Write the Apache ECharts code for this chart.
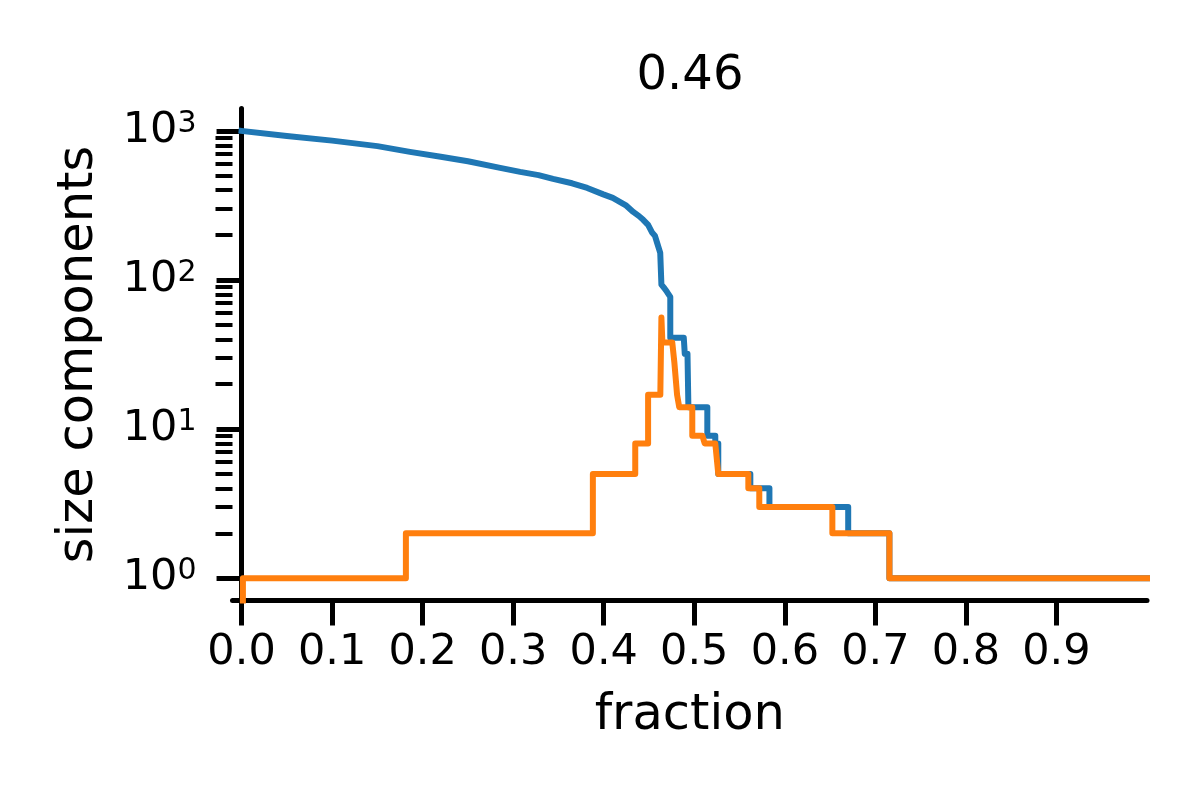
<!DOCTYPE html>
<html><head><meta charset="utf-8">
<script src="https://cdn.jsdelivr.net/npm/echarts@6/dist/echarts.min.js"></script>
<style>html,body{margin:0;padding:0;background:#fff}#c{width:1200px;height:800px}</style>
</head><body><div id="c"></div>
<script>
const titleText = '0.46';
const xName = 'fraction';
const yName = 'size components';
const xTicks = [0, 0.1, 0.2, 0.3, 0.4, 0.5, 0.6, 0.7, 0.8, 0.9];
const yMajorTicks = [1, 10, 100, 1000];
const yMinorTicks = [2, 3, 4, 5, 6, 7, 8, 9, 20, 30, 40, 50, 60, 70, 80, 90, 200, 300, 400, 500, 600, 700, 800, 900];

// largest component (blue)
const blueFraction = [0, 0.05, 0.1, 0.15, 0.186, 0.22, 0.25, 0.2856, 0.3077, 0.328,
  0.344, 0.365, 0.3818, 0.3995, 0.41, 0.4177, 0.425, 0.4326, 0.439, 0.4436,
  0.449, 0.4536, 0.4565, 0.459, 0.4624, 0.4637,
  0.4637, 0.467, 0.470, 0.4735, 0.4735, 0.4884, 0.4895, 0.4925, 0.4935, 0.5144,
  0.5144, 0.5232, 0.5232, 0.5265, 0.5265, 0.5619, 0.5619, 0.583, 0.583, 0.670,
  0.670, 0.7155, 0.7155, 1.0];
const blueSize = [1000, 925, 860, 790, 723, 670, 625, 565, 531, 505,
  476, 445, 414, 375, 355, 334, 315, 286, 268, 253,
  234, 207, 198, 177, 152, 150,
  93, 88, 83, 77, 41, 41, 32, 32, 14, 14,
  9, 9, 8, 8, 5, 5, 4, 4, 3, 3,
  2, 2, 1, 1];

// second largest component (orange)
const orangeFraction = [0.0015, 0.0015, 0.1815, 0.1815, 0.388, 0.388, 0.4348, 0.4348, 0.449, 0.449,
  0.4625, 0.4637, 0.4648, 0.4757, 0.478, 0.481, 0.4834, 0.4978, 0.4978, 0.509,
  0.5115, 0.5232, 0.5265, 0.5597, 0.5597, 0.5718, 0.5718, 0.6525, 0.6525, 0.7155,
  0.7155, 1.0];
const orangeSize = [0, 1, 1, 2, 2, 5, 5, 8, 8, 17,
  17, 56, 38, 38, 28, 17, 14, 14, 9, 9,
  8, 8, 5, 5, 4, 4, 3, 3, 2, 2,
  1, 1];

const X_MIN = -0.01, X_MAX = 1.0;
const Y_MIN = Math.pow(10, -0.15), Y_MAX = Math.pow(10, 3.15);
const FONT = 'DejaVu Sans';

function pairs(xs, ys) {
  return xs.map((x, i) => [x, ys[i] > 0 ? ys[i] : Y_MIN / 10]);
}

const chart = echarts.init(document.getElementById('c'), null, {renderer: 'canvas'});
const axisLineStyle = {color: '#000', width: 5};
const supLabel = v => {
  const e = Math.round(Math.log10(v));
  return '{b|10}{s|' + e + '}';
};
chart.setOption({
  animation: false,
  backgroundColor: '#fff',
  title: {
    text: titleText, left: 690, top: 53, textAlign: 'center', padding: 0,
    textStyle: {fontFamily: FONT, fontSize: 48, fontWeight: 'normal', color: '#000'}
  },
  grid: {left: 232.5, top: 108.5, width: 914.5, height: 492, containLabel: false},
  xAxis: {
    type: 'value', min: X_MIN, max: X_MAX,
    name: xName, nameLocation: 'middle', nameGap: 91,
    nameTextStyle: {fontFamily: FONT, fontSize: 49.5, color: '#000'},
    axisLine: {show: true, lineStyle: axisLineStyle},
    axisTick: {show: true, length: 25, lineStyle: {color: '#000', width: 5}, customValues: xTicks},
    axisLabel: {margin: 31, fontFamily: FONT, fontSize: 43, color: '#000',
      customValues: xTicks, formatter: v => v.toFixed(1)},
    splitLine: {show: false}
  },
  yAxis: [{
    type: 'log', logBase: 10, min: Y_MIN, max: Y_MAX, position: 'left',
    name: yName, nameLocation: 'middle', nameGap: 128,
    nameTextStyle: {fontFamily: FONT, fontSize: 49.5, color: '#000'},
    axisLine: {show: true, lineStyle: axisLineStyle},
    axisTick: {show: true, length: 25, lineStyle: {color: '#000', width: 5}, customValues: yMajorTicks},
    axisLabel: {margin: 36, color: '#000', customValues: yMajorTicks, formatter: supLabel,
      rich: {
        b: {fontFamily: FONT, fontSize: 43, color: '#000', lineHeight: 43},
        s: {fontFamily: FONT, fontSize: 30, color: '#000', lineHeight: 30, verticalAlign: 'top'}
      }},
    splitLine: {show: false}, minorTick: {show: false}
  }, {
    type: 'log', logBase: 10, min: Y_MIN, max: Y_MAX, position: 'left', offset: 0,
    axisLine: {show: false},
    axisTick: {show: true, length: 17, lineStyle: {color: '#000', width: 4}, customValues: yMinorTicks},
    axisLabel: {show: false},
    splitLine: {show: false}
  }],
  series: [{
    type: 'line', name: 'largest', data: pairs(blueFraction, blueSize),
    showSymbol: false, symbol: 'none', clip: true,
    lineStyle: {color: '#1f77b4', width: 6, join: 'round', cap: 'square'}, z: 2
  }, {
    type: 'line', name: 'second', data: pairs(orangeFraction, orangeSize),
    showSymbol: false, symbol: 'none', clip: true,
    lineStyle: {color: '#ff7f0e', width: 6, join: 'round', cap: 'square'}, z: 3
  }]
});
</script></body></html>
